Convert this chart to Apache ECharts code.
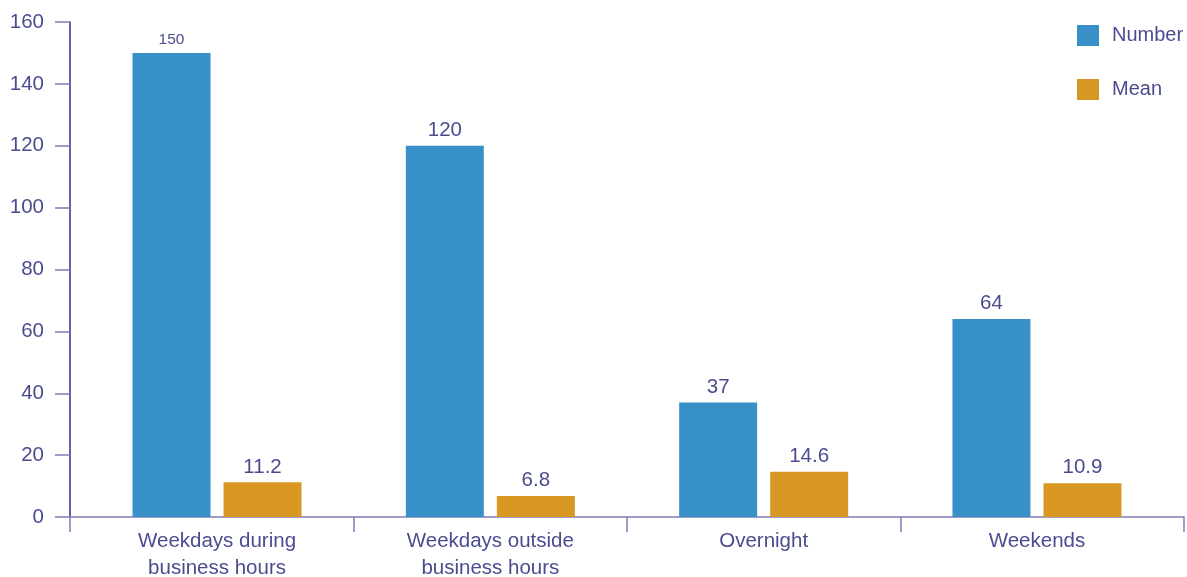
<!DOCTYPE html>
<html>
<head>
<meta charset="utf-8">
<script src="https://cdn.jsdelivr.net/npm/echarts@6/dist/echarts.min.js"></script>
<style>html,body{margin:0;padding:0;background:#fff}#c{width:1187px;height:577px}</style>
</head>
<body>
<div id="c"></div>
<script>
const categories = ["Weekdays during\nbusiness hours", "Weekdays outside\nbusiness hours", "Overnight", "Weekends"];
const numberValues = [150, 120, 37, 64];
const meanValues = [11.2, 6.8, 14.6, 10.9];
const yTicks = [0, 20, 40, 60, 80, 100, 120, 140, 160];

// x position of each category on the axis scale (category index)
const catPos = categories.map((_, i) => i);
const xPad = 0.538; // axis extends a little beyond the outer category bands
const xMin = -xPad, xMax = categories.length - 1 + xPad;
const xTickValues = [xMin].concat(catPos.slice(1).map(p => p - 0.5), [xMax]);

const textColor = '#4b4c90';
const font = '"Liberation Sans", Arial, sans-serif';
const chart = echarts.init(document.getElementById('c'));
chart.setOption({
  animation: false,
  textStyle: { fontFamily: font },
  grid: { left: 70, right: 3, top: 22, bottom: 60, containLabel: false, outerBoundsMode: 'none' },
  legend: {
    orient: 'vertical', left: 1072, top: 20,
    itemWidth: 22, itemHeight: 21, itemGap: 33,
    icon: 'rect',
    textStyle: { fontSize: 20, lineHeight: 21, color: textColor, fontFamily: font, padding: [0, 0, 0, 8] },
    data: ['Number', 'Mean']
  },
  xAxis: {
    type: 'value', min: xMin, max: xMax,
    splitLine: { show: false },
    axisLine: { show: true, lineStyle: { color: '#7f7db5', width: 1.5 } },
    axisTick: { show: true, length: 15, customValues: xTickValues, lineStyle: { color: '#7f7db5', width: 1.5 } },
    axisLabel: {
      customValues: catPos,
      formatter: v => categories[Math.round(v)],
      fontSize: 20.5, color: textColor, lineHeight: 27, margin: 11, fontFamily: font
    }
  },
  yAxis: {
    type: 'value', min: yTicks[0], max: yTicks[yTicks.length - 1], interval: 20,
    splitLine: { show: false },
    axisLine: { show: true, onZero: false, lineStyle: { color: '#332f83', width: 1.5 } },
    axisTick: { show: true, length: 15, lineStyle: { color: '#7f7db5', width: 1.5 } },
    axisLabel: { fontSize: 20.5, color: textColor, margin: 26, fontFamily: font }
  },
  series: [
    {
      name: 'Number', type: 'bar', barWidth: 78, barGap: '16.7%',
      itemStyle: { color: '#3890c8' },
      label: { show: true, position: 'top', distance: 5, fontSize: 20.5, color: textColor, fontFamily: font },
      data: numberValues.map((v, i) => i === 0
        ? { value: [catPos[i], v], label: { fontSize: 15.5 } }
        : [catPos[i], v]),
      encode: { x: 0, y: 1 }
    },
    {
      name: 'Mean', type: 'bar', barWidth: 78, barGap: '16.7%',
      itemStyle: { color: '#d99823' },
      label: { show: true, position: 'top', distance: 5, fontSize: 20.5, color: textColor, fontFamily: font },
      data: meanValues.map((v, i) => [catPos[i], v]),
      encode: { x: 0, y: 1 }
    }
  ]
});
</script>
</body>
</html>
